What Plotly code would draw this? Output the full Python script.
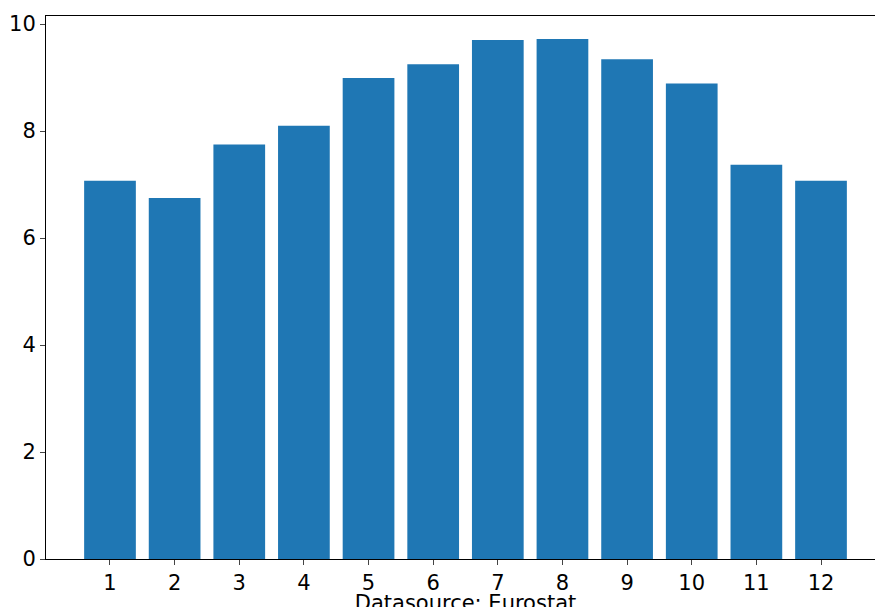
import plotly.graph_objects as go

months = list(range(1, 13))
values = [7.07, 6.75, 7.75, 8.10, 8.99, 9.25, 9.70, 9.72, 9.34, 8.89, 7.37, 7.07]

fig = go.Figure(go.Bar(x=months, y=values, width=0.8, marker=dict(color="#1f77b4", line=dict(width=0))))
fig.update_layout(
    width=883, height=607, plot_bgcolor="white", paper_bgcolor="white",
    margin=dict(l=38, r=6, t=8, b=56, autoexpand=False), showlegend=False,
    font=dict(family="DejaVu Sans", size=21, color="black"),
)
fig.update_xaxes(range=[0.01, 12.99], tickmode="array", tickvals=months, ticktext=[str(m) for m in months],
                 showline=True, linecolor="black", mirror=True, ticks="outside", ticklen=5, showgrid=False,
                 automargin=False,
                 title=dict(text="Datasource: Eurostat", standoff=0, font=dict(size=21)))
fig.update_yaxes(range=[0, 10.15], tickvals=[0, 2, 4, 6, 8, 10], showline=True, linecolor="black", mirror=True,
                 ticks="outside", ticklen=5, showgrid=False, zeroline=False, automargin=False)
fig.write_html("out.html")
